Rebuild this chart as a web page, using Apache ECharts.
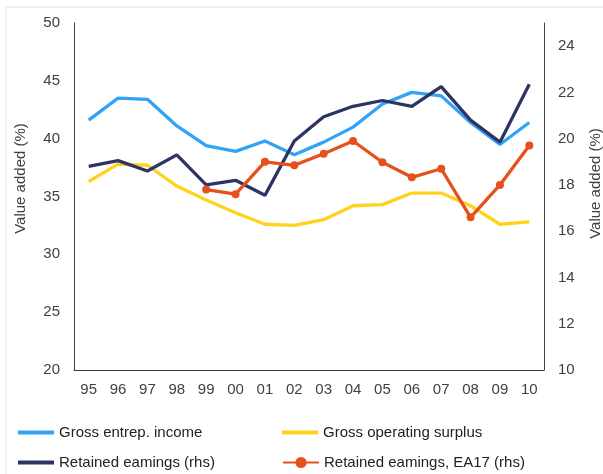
<!DOCTYPE html>
<html>
<head>
<meta charset="utf-8">
<script src="https://cdn.jsdelivr.net/npm/echarts@6/dist/echarts.min.js"></script>
<style>
  html, body { margin: 0; padding: 0; background: #fff; }
  #chart { width: 603px; height: 474px; }
</style>
</head>
<body>
<div id="chart"></div>
<script>
// years on the x axis
const years = ['95','96','97','98','99','00','01','02','03','04','05','06','07','08','09','10'];

// left axis series
const grossEntrepIncome = [41.6, 43.5, 43.4, 41.1, 39.4, 38.9, 39.8, 38.6, 39.7, 41.0, 43.0, 44.0, 43.7, 41.4, 39.5, 41.4];
const grossOperatingSurplus = [36.3, 37.8, 37.7, 35.9, 34.7, 33.6, 32.6, 32.5, 33.0, 34.2, 34.3, 35.3, 35.3, 34.2, 32.6, 32.8];

// right axis series
const retainedEarnings = [18.8, 19.05, 18.6, 19.3, 18.0, 18.2, 17.55, 19.9, 20.95, 21.4, 21.65, 21.4, 22.25, 20.8, 19.85, 22.35];
const retainedEarningsEA17 = [null, null, null, null, 17.8, 17.6, 19.0, 18.85, 19.35, 19.9, 18.98, 18.33, 18.7, 16.6, 18.0, 19.7];

const chart = echarts.init(document.getElementById('chart'));

const axisTxt = { color: '#404040', fontSize: 15, fontFamily: 'Liberation Sans' };
const axisLine = { show: true, lineStyle: { color: '#404040', width: 1 } };

// one legend per item, laid out as a 2x2 block
function legendItem(name, left, top, lineOnly) {
  const item = { name: name };
  if (lineOnly) item.icon = 'rect';
  return {
    data: [item],
    left: left, top: top,
    itemWidth: 36, itemHeight: lineOnly ? 4 : 14,
    textStyle: { color: '#222', fontSize: 15, fontFamily: 'Liberation Sans' }
  };
}

chart.setOption({
  animation: false,
  backgroundColor: '#fff',
  grid: { left: 74, right: 59, top: 23, bottom: 104, outerBoundsMode: 'none', containLabel: false },
  graphic: [
    { type: 'line', shape: { x1: 6, y1: 7, x2: 603, y2: 7 }, style: { stroke: '#e3e3e3', lineWidth: 1 } },
    { type: 'line', shape: { x1: 6, y1: 7, x2: 6, y2: 474 }, style: { stroke: '#e3e3e3', lineWidth: 1 } }
  ],
  legend: [
    legendItem('Gross entrep. income', 13, 420, true),
    legendItem('Retained eamings (rhs)', 13, 450, true),
    legendItem('Gross operating surplus', 277, 420, true),
    legendItem('Retained eamings, EA17 (rhs)', 277, 450, false)
  ],
  xAxis: {
    type: 'category',
    data: years,
    boundaryGap: true,
    axisLine: axisLine,
    axisTick: { show: false },
    axisLabel: Object.assign({ margin: 12, interval: 0 }, axisTxt)
  },
  yAxis: [
    {
      type: 'value', min: 20, max: 50, interval: 5,
      name: 'Value added (%)', nameLocation: 'middle', nameRotate: 90, nameGap: 46,
      nameTextStyle: Object.assign({}, axisTxt, { padding: [0, 0, 0, 36] }),
      axisLine: axisLine, axisTick: { show: false }, splitLine: { show: false },
      axisLabel: Object.assign({ margin: 14 }, axisTxt)
    },
    {
      type: 'value', min: 10, max: 25, interval: 2, position: 'right',
      name: 'Value added (%)', nameLocation: 'middle', nameRotate: 90, nameGap: 44,
      nameTextStyle: Object.assign({}, axisTxt, { padding: [0, 0, 0, 26] }),
      axisLine: axisLine, axisTick: { show: false }, splitLine: { show: false },
      axisLabel: Object.assign({ margin: 14, formatter: v => (v % 2 === 0 ? String(v) : '') }, axisTxt)
    }
  ],
  series: [
    {
      name: 'Gross entrep. income', type: 'line', data: grossEntrepIncome, yAxisIndex: 0,
      symbol: 'none', lineStyle: { color: '#33a3f5', width: 3.3 }, itemStyle: { color: '#33a3f5' }, z: 2
    },
    {
      name: 'Gross operating surplus', type: 'line', data: grossOperatingSurplus, yAxisIndex: 0,
      symbol: 'none', lineStyle: { color: '#ffd21e', width: 3.3 }, itemStyle: { color: '#ffd21e' }, z: 1
    },
    {
      name: 'Retained eamings (rhs)', type: 'line', data: retainedEarnings, yAxisIndex: 1,
      symbol: 'none', lineStyle: { color: '#2e3366', width: 3.3 }, itemStyle: { color: '#2e3366' }, z: 3
    },
    {
      name: 'Retained eamings, EA17 (rhs)', type: 'line', data: retainedEarningsEA17, yAxisIndex: 1,
      symbol: 'circle', symbolSize: 8, showSymbol: true,
      lineStyle: { color: '#e6501c', width: 3.3 }, itemStyle: { color: '#e6501c' }, z: 4
    }
  ]
});
</script>
</body>
</html>
